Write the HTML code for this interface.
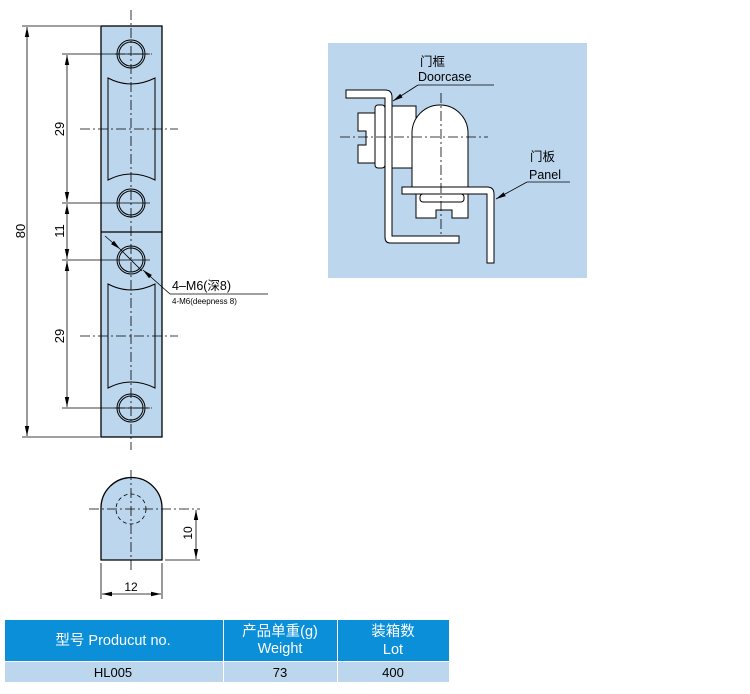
<!DOCTYPE html>
<html><head><meta charset="utf-8"><style>
body{margin:0;background:#fff;width:750px;height:694px;overflow:hidden}
svg{display:block}
text{font-family:"Liberation Sans","Noto Sans CJK SC",sans-serif}
</style></head><body>
<svg width="750" height="694" viewBox="0 0 750 694" xmlns="http://www.w3.org/2000/svg">
<defs>
<marker id="a" markerWidth="10" markerHeight="6" refX="10" refY="3" orient="auto-start-reverse" markerUnits="userSpaceOnUse"><path d="M0,0.8 L10,3 L0,5.2z" fill="#000"/></marker>
</defs>
<!-- main plate -->
<rect x="101" y="26" width="61" height="411" fill="#bcd6ee" stroke="#000" stroke-width="1.3"/>
<line x1="101" y1="232" x2="162" y2="232" stroke="#000" stroke-width="1.2"/>
<g fill="none" stroke="#000" stroke-width="1">
<path d="M108,78 Q131,90 155,78 V180 Q131,168 108,180 Z"/>
<path d="M108,284 Q131,296 155,284 V388 Q131,376 108,388 Z"/>
</g>
<g fill="none" stroke="#000">
<circle cx="131" cy="54" r="14" stroke-width="1"/><circle cx="131" cy="54" r="12" stroke-width="1"/>
<circle cx="131" cy="203" r="14"/><circle cx="131" cy="203" r="12"/>
<circle cx="131" cy="260" r="14"/><circle cx="131" cy="260" r="12"/>
<circle cx="131" cy="408" r="14"/><circle cx="131" cy="408" r="12"/>
</g>
<g stroke="#000" stroke-width="0.8" stroke-dasharray="10,3,2,3" fill="none">
<line x1="131" y1="10" x2="131" y2="450"/>
<line x1="80" y1="129" x2="178" y2="129"/>
<line x1="80" y1="336" x2="178" y2="336"/>
<line x1="115" y1="54" x2="152" y2="54"/>
<line x1="115" y1="408" x2="152" y2="408"/>
</g>
<g stroke="#000" stroke-width="0.8">
<line x1="22" y1="26" x2="100" y2="26"/><line x1="22" y1="437" x2="100" y2="437"/>
<line x1="27" y1="27" x2="27" y2="436" marker-start="url(#a)" marker-end="url(#a)"/>
<line x1="62" y1="54" x2="150" y2="54"/><line x1="62" y1="203" x2="150" y2="203"/>
<line x1="62" y1="260" x2="150" y2="260"/><line x1="62" y1="408" x2="150" y2="408"/>
<line x1="67" y1="55" x2="67" y2="202" marker-start="url(#a)" marker-end="url(#a)"/>
<line x1="67" y1="204" x2="67" y2="259" marker-start="url(#a)" marker-end="url(#a)"/>
<line x1="67" y1="261" x2="67" y2="407" marker-start="url(#a)" marker-end="url(#a)"/>
<line x1="105" y1="236" x2="120" y2="249" marker-end="url(#a)"/>
<line x1="120" y1="249" x2="142" y2="271"/>
<line x1="152" y1="278" x2="143" y2="270" marker-end="url(#a)"/>
<line x1="152" y1="278" x2="170" y2="294"/>
<line x1="170" y1="294" x2="268" y2="294"/>
</g>
<g font-size="13" fill="#000">
<text transform="translate(25,231) rotate(-90)" text-anchor="middle">80</text>
<text transform="translate(64,129) rotate(-90)" text-anchor="middle">29</text>
<text transform="translate(64,231) rotate(-90)" text-anchor="middle">11</text>
<text transform="translate(64,336) rotate(-90)" text-anchor="middle">29</text>
</g>
<text x="172" y="290" font-size="12.5">4–M6(深8)</text>
<text x="172" y="304" font-size="8">4-M6(deepness 8)</text>

<!-- bottom view -->
<path d="M101,560 V508 A30.5,30.5 0 0 1 162,508 V560 Z" fill="#bcd6ee" stroke="#000" stroke-width="1.3"/>
<circle cx="131" cy="509" r="15" fill="none" stroke="#000" stroke-width="0.8" stroke-dasharray="4,3"/>
<g stroke="#000" stroke-width="0.8" stroke-dasharray="10,3,2,3">
<line x1="89" y1="509" x2="200" y2="509"/>
<line x1="131" y1="470" x2="131" y2="570"/>
</g>
<g stroke="#000" stroke-width="0.8">
<line x1="165" y1="560" x2="200" y2="560"/>
<line x1="196" y1="510" x2="196" y2="559" marker-start="url(#a)" marker-end="url(#a)"/>
<line x1="101" y1="563" x2="101" y2="599"/><line x1="162" y1="563" x2="162" y2="599"/>
<line x1="102" y1="594" x2="161" y2="594" marker-start="url(#a)" marker-end="url(#a)"/>
</g>
<text transform="translate(192,533) rotate(-90)" text-anchor="middle" font-size="12">10</text>
<text x="131" y="591" text-anchor="middle" font-size="12">12</text>

<!-- right install view -->
<rect x="328" y="43" width="259" height="235" fill="#bcd6ee"/>
<g fill="#fff" stroke="#000" stroke-width="1">
<rect x="392" y="106" width="24" height="62"/>
<path d="M412,187 V133 A28,28 0 0 1 468,133 V187 Z"/>
<rect x="375" y="105" width="10" height="63" rx="3"/>
<path d="M358,113 H375 V163 H358 V145 H366 V131 H358 Z"/>
<path d="M416,194 H468 V218 H452 V210 H436 V218 H416 Z"/>
<rect x="420" y="194" width="44" height="8" rx="3"/>
<path d="M346,90 H385 Q392,90 392,97 V236 H459 V243 H390 Q385,243 385,237 V98 H346 Z"/>
<path d="M402,187 H487 Q494,187 494,194 V263 H487 V194 H402 Z"/>
</g>
<g stroke="#000" stroke-width="0.8" stroke-dasharray="10,3,2,3">
<line x1="441" y1="93" x2="441" y2="235"/>
<line x1="340" y1="137" x2="488" y2="137"/>
</g>
<g stroke="#000" stroke-width="0.8">
<line x1="418" y1="85" x2="494" y2="85"/>
<line x1="418" y1="85" x2="393" y2="101" marker-end="url(#a)"/>
<line x1="527" y1="182" x2="570" y2="182"/>
<line x1="527" y1="182" x2="496" y2="199" marker-end="url(#a)"/>
</g>
<g font-size="12.5" fill="#000">
<text x="420" y="66">门框</text>
<text x="418" y="81">Doorcase</text>
<text x="530" y="161">门板</text>
<text x="529" y="179">Panel</text>
</g>

<!-- table -->
<rect x="5" y="620" width="444" height="41" fill="#0a8fd8"/>
<rect x="5" y="662" width="444" height="20" fill="#bcd6ee"/>
<line x1="223.5" y1="620" x2="223.5" y2="682" stroke="#fff" stroke-width="1"/>
<line x1="337.5" y1="620" x2="337.5" y2="682" stroke="#fff" stroke-width="1"/>
<line x1="5" y1="661.5" x2="449" y2="661.5" stroke="#fff" stroke-width="1"/>
<g font-size="14.5" fill="#fff" text-anchor="middle">
<text x="113" y="645">型号 Producut no.</text>
<text x="280" y="636">产品单重(g)</text>
<text x="280" y="653">Weight</text>
<text x="393" y="636">装箱数</text>
<text x="393" y="654">Lot</text>
</g>
<g font-size="13" fill="#000" text-anchor="middle">
<text x="113" y="677">HL005</text>
<text x="280" y="677">73</text>
<text x="393" y="677">400</text>
</g>
</svg>
</body></html>
